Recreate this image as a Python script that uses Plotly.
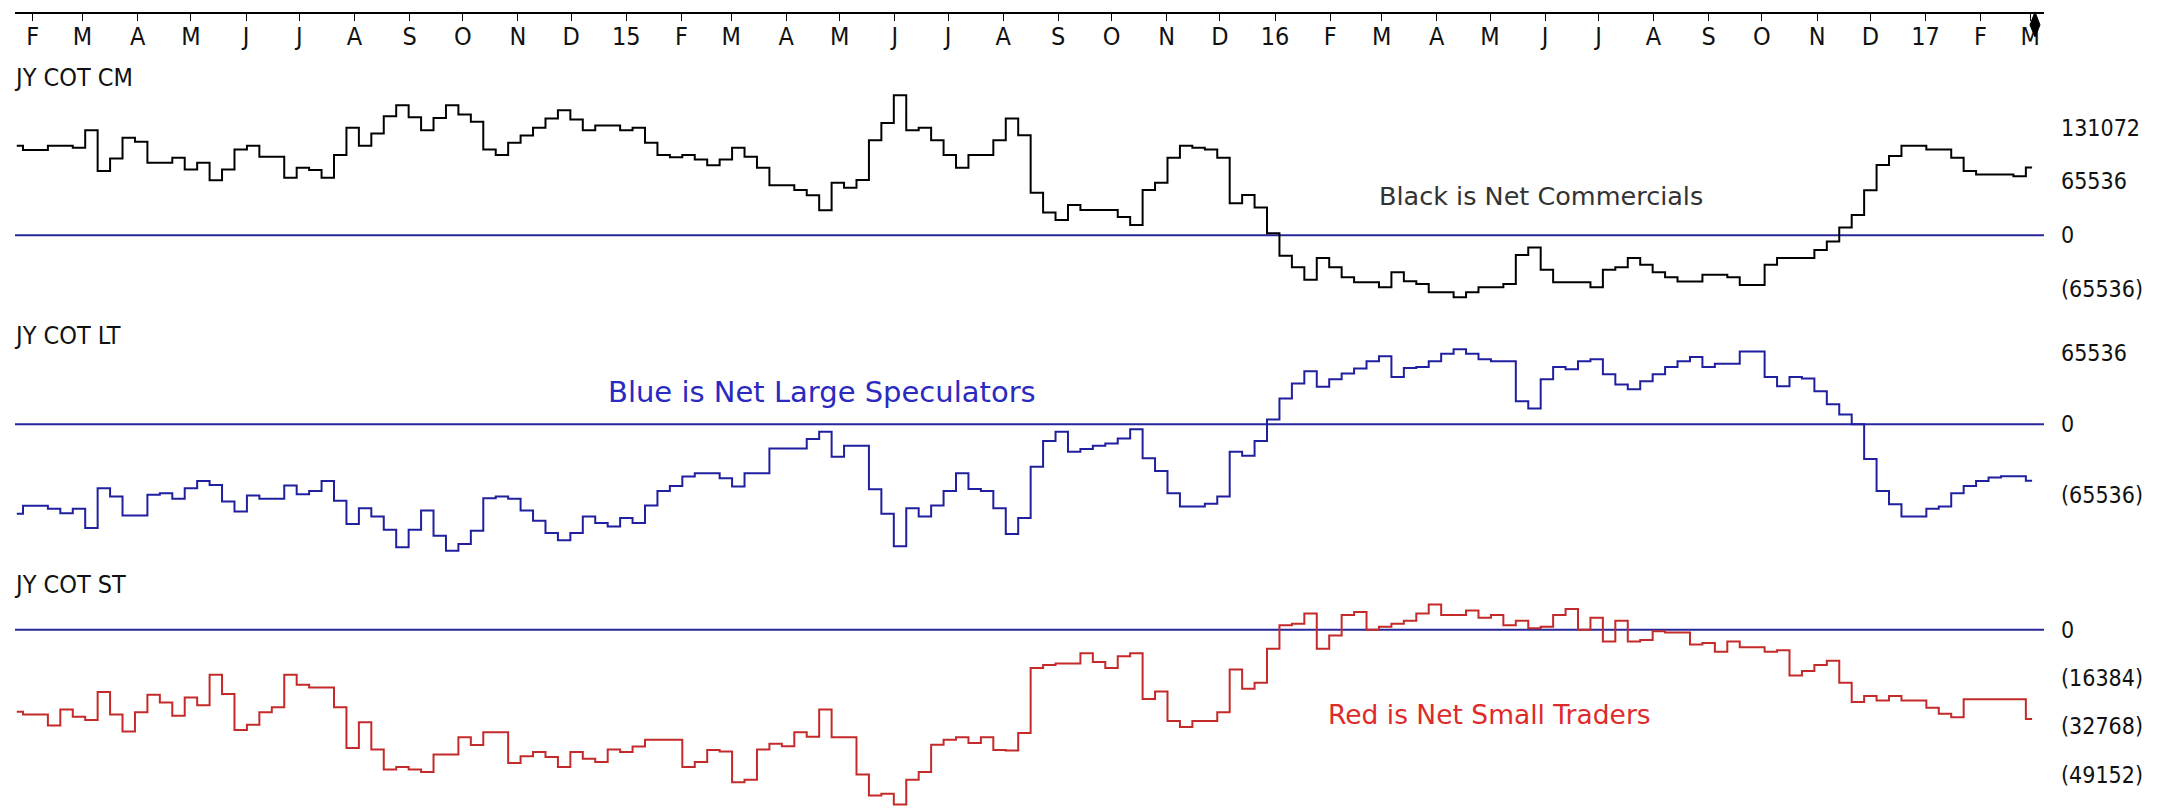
import pandas as pd
import plotly.graph_objects as go

W, H = 2157, 811
OFF = 8  # page body margin
FW, FH = W - OFF, H - OFF

# weekly COT report dates (one step per week)
weeks = pd.date_range("2014-01-23", periods=163, freq="7D")

# net commercials
cm_net = [
    109000, 103600, 103600, 109000, 109000, 106400, 127800, 78100, 93500, 118500,
    113700, 88200, 88200, 94300, 80100, 88200, 66800, 80100, 104400, 109000,
    95500, 95500, 70000, 82100, 79300, 70000, 97500, 130700, 109000, 123800,
    144800, 158200, 143600, 127800, 142800, 158200, 146900, 138000, 104400, 97500,
    112500, 121400, 130700, 142000, 152100, 140800, 127800, 133500, 133500, 127800,
    130700, 112500, 97500, 95000, 97500, 92200, 85000, 92200, 106400, 95500,
    82100, 60700, 60700, 55000, 48500, 30300, 63900, 57800, 67200, 115700,
    136700, 170300, 127800, 130700, 115700, 97500, 82100, 97500, 97500, 115700,
    142000, 121800, 51800, 27500, 18600, 36800, 30700, 30700, 30700, 22200,
    12500, 55000, 63900, 94300, 109000, 106400, 104400, 94300, 38800, 48900,
    33600, 2400, -25100, -39200, -54200, -27900, -39200, -51400, -57400, -57400,
    -63500, -45300, -56200, -59500, -69600, -69600, -75600, -69600, -63500, -63500,
    -59500, -24300, -15000, -42100, -57400, -57400, -57400, -63500, -42100, -39200,
    -27900, -36000, -45300, -51400, -56600, -56600, -48100, -48100, -51400, -60700,
    -60700, -36000, -27900, -27900, -27900, -18200, -7700, 9300, 24700, 54600,
    85400, 96300, 109000, 109000, 104400, 104400, 94300, 78100, 74000, 74000,
    74000, 71600, 82500,
]

# net large speculators
lt_net = [
    -82500, -75100, -75100, -77900, -81900, -77900, -95600, -58900, -66600, -84000,
    -84000, -65000, -63500, -68700, -58900, -52200, -55900, -71200, -80300, -65700,
    -68700, -68700, -56500, -64400, -61400, -52200, -70500, -91900, -77300, -84900,
    -97100, -113300, -97100, -79400, -102600, -116400, -110300, -98000, -68100, -66600,
    -68700, -79400, -88900, -100200, -106900, -100200, -84900, -91000, -94100, -86400,
    -91000, -74800, -61400, -56800, -48200, -45200, -45200, -49800, -57400, -45200,
    -45200, -22300, -22300, -22300, -13700, -7000, -29900, -19800, -19800, -59900,
    -82500, -112400, -77300, -84900, -74800, -61400, -45200, -59600, -61400, -77300,
    -101100, -86400, -39100, -15600, -7000, -25300, -22900, -19800, -17700, -13100,
    -4600, -31400, -43100, -63500, -75700, -75700, -73300, -66600, -25300, -29000,
    -15600, 4300, 23600, 37300, 48600, 34300, 41300, 46500, 51100, 57800,
    62400, 43400, 51700, 52600, 57800, 64800, 68800, 64800, 59600, 57800,
    57800, 21100, 14400, 41300, 52600, 50400, 57800, 59600, 45900, 36400,
    32100, 39400, 45900, 52600, 57800, 61700, 52600, 55600, 55600, 66900,
    66900, 43400, 34900, 43400, 41900, 30300, 18400, 8900, 0, -32100,
    -61400, -73600, -84900, -84900, -77900, -75700, -63500, -56800, -52200, -49000,
    -48000, -48000, -52000,
]

# net small traders
st_net = [
    -27800, -28800, -28800, -32500, -27100, -29500, -30600, -21100, -28800, -34500,
    -28000, -22100, -24700, -29200, -23000, -25600, -15300, -21800, -34000, -32200,
    -28000, -26300, -15300, -18700, -19600, -19600, -26300, -40100, -31400, -40600,
    -47400, -46600, -47400, -48300, -42300, -42300, -36500, -39100, -34800, -34800,
    -45200, -42900, -41500, -43200, -46600, -41500, -43800, -44900, -40600, -41500,
    -39600, -37300, -37300, -37300, -46600, -44900, -40800, -41300, -51700, -50900,
    -40600, -38700, -39500, -34800, -36300, -27100, -36500, -36500, -49100, -56200,
    -55600, -59300, -50900, -48300, -39000, -37300, -36500, -38400, -36500, -40800,
    -41000, -35000, -13000, -12000, -11500, -11500, -8000, -11000, -13000, -9000,
    -8000, -23500, -21000, -31000, -33000, -31000, -31000, -28000, -13500, -20000,
    -18000, -6500, 1500, 2000, 5500, -6500, -2000, 5000, 6000, 0,
    1000, 2000, 3000, 5500, 8500, 5000, 5000, 6500, 4000, 5000,
    1500, 3000, 500, 1000, 5000, 7000, 0, 4000, -4000, 3000,
    -4000, -3500, -500, -1000, -1000, -5000, -4500, -7500, -4000, -6000,
    -6000, -7500, -7000, -15500, -14000, -12000, -10500, -18000, -24500, -22500,
    -24000, -22500, -24000, -24000, -26500, -28500, -29700, -23600, -23600, -23600,
    -23600, -23600, -30300,
]

month_ticks = pd.date_range("2014-02-01", "2017-03-01", freq="MS")
month_labels = [
    "F", "M", "A", "M", "J", "J", "A", "S", "O", "N", "D",
    "15", "F", "M", "A", "M", "J", "J", "A", "S", "O", "N", "D",
    "16", "F", "M", "A", "M", "J", "J", "A", "S", "O", "N", "D",
    "17", "F", "M",
]

panel_titles = ["JY COT CM", "JY COT LT", "JY COT ST"]
cm_ticks = [131072, 65536, 0, -65536]
lt_ticks = [65536, 0, -65536]
st_ticks = [0, -16384, -32768, -49152]


def fmt(v):
    return f"({-v})" if v < 0 else str(v)


def px(x):
    return (x - OFF) / FW


def py(y):
    return 1 - (y - OFF) / FH


def panel_range(zero_px, units_px, top_px, bot_px):
    return [(zero_px - bot_px) * units_px, (zero_px - top_px) * units_px]


DIN = "DejaVu Sans Condensed, Liberation Sans Narrow, Arial Narrow, sans-serif"
NAVY = "#27279a"

fig = go.Figure()
fig.add_trace(go.Scatter(x=weeks, y=cm_net, mode="lines", line=dict(color="black", width=2, shape="hvh"), yaxis="y"))
fig.add_trace(go.Scatter(x=weeks, y=lt_net, mode="lines", line=dict(color="#1f1fa0", width=2, shape="hvh"), yaxis="y2"))
fig.add_trace(go.Scatter(x=weeks, y=st_net, mode="lines", line=dict(color="#c42a2a", width=2, shape="hvh"), yaxis="y3"))

yax = dict(side="right", anchor="x", showgrid=False, zeroline=False, showline=False, ticks="",
           ticklabelstandoff=16, tickfont=dict(family=DIN, size=23, color="#111"))

fig.update_layout(
    width=FW, height=FH, margin=dict(l=0, r=0, t=0, b=0),
    paper_bgcolor="white", plot_bgcolor="white", showlegend=False,
    xaxis=dict(
        type="date", anchor="free", position=py(13), side="top",
        domain=[px(15), px(2044)],
        range=[weeks[0] - pd.Timedelta(days=1), weeks[-1] + pd.Timedelta(hours=161)],
        showgrid=False, zeroline=False, showline=True, linecolor="black", linewidth=2,
        ticks="inside", ticklen=7, tickcolor="black", tickwidth=1,
        ticklabelposition="inside", ticklabelstandoff=9,
        tickvals=month_ticks, ticktext=month_labels,
        tickfont=dict(family=DIN, size=25, color="#111"),
    ),
    yaxis=dict(yax, domain=[py(300), py(92)], range=panel_range(236, 1213.6, 92, 300),
               tickvals=cm_ticks, ticktext=[fmt(v) for v in cm_ticks]),
    yaxis2=dict(yax, domain=[py(562), py(335)], range=panel_range(425.7, 916.6, 335, 562),
                tickvals=lt_ticks, ticktext=[fmt(v) for v in lt_ticks]),
    yaxis3=dict(yax, domain=[py(811), py(585)], range=panel_range(632, 337.8, 585, 811),
                tickvals=st_ticks, ticktext=[fmt(v) for v in st_ticks]),
)

for yref in ["y", "y2", "y3"]:
    fig.add_shape(type="line", xref="x domain", x0=0, x1=1, yref=yref, y0=0, y1=0,
                  line=dict(color=NAVY, width=2), layer="below")

# current-bar pointer on the date axis (drawn as a small filled diamond)
pointer = [(2035, 12), (2040, 25), (2035, 37), (2030, 25)]
path = "M " + " L ".join(f"{px(x):.5f},{py(y):.5f}" for x, y in pointer) + " Z"
fig.add_shape(type="path", xref="paper", yref="paper", path=path,
              fillcolor="black", line=dict(color="black", width=1))

for title, ypx in zip(panel_titles, [78, 337, 587]):
    fig.add_annotation(text=title, xref="paper", yref="paper", x=px(12), y=py(ypx),
                       xanchor="left", yanchor="middle", showarrow=False,
                       font=dict(family=DIN, size=25, color="#111"))

notes = [
    ("Black is Net Commercials", 1541, 197, "#333333", 25.5),
    ("Blue is Net Large Speculators", 822, 393, "#2a2ac0", 29),
    ("Red is Net Small Traders", 1489, 717, "#dd2b2b", 26.5),
]
for text, xpx, ypx, color, size in notes:
    fig.add_annotation(text=text, xref="paper", yref="paper", x=px(xpx), y=py(ypx),
                       xanchor="center", yanchor="middle", showarrow=False,
                       font=dict(family="DejaVu Sans, Verdana, sans-serif", size=size, color=color))

fig.write_html("out.html")
